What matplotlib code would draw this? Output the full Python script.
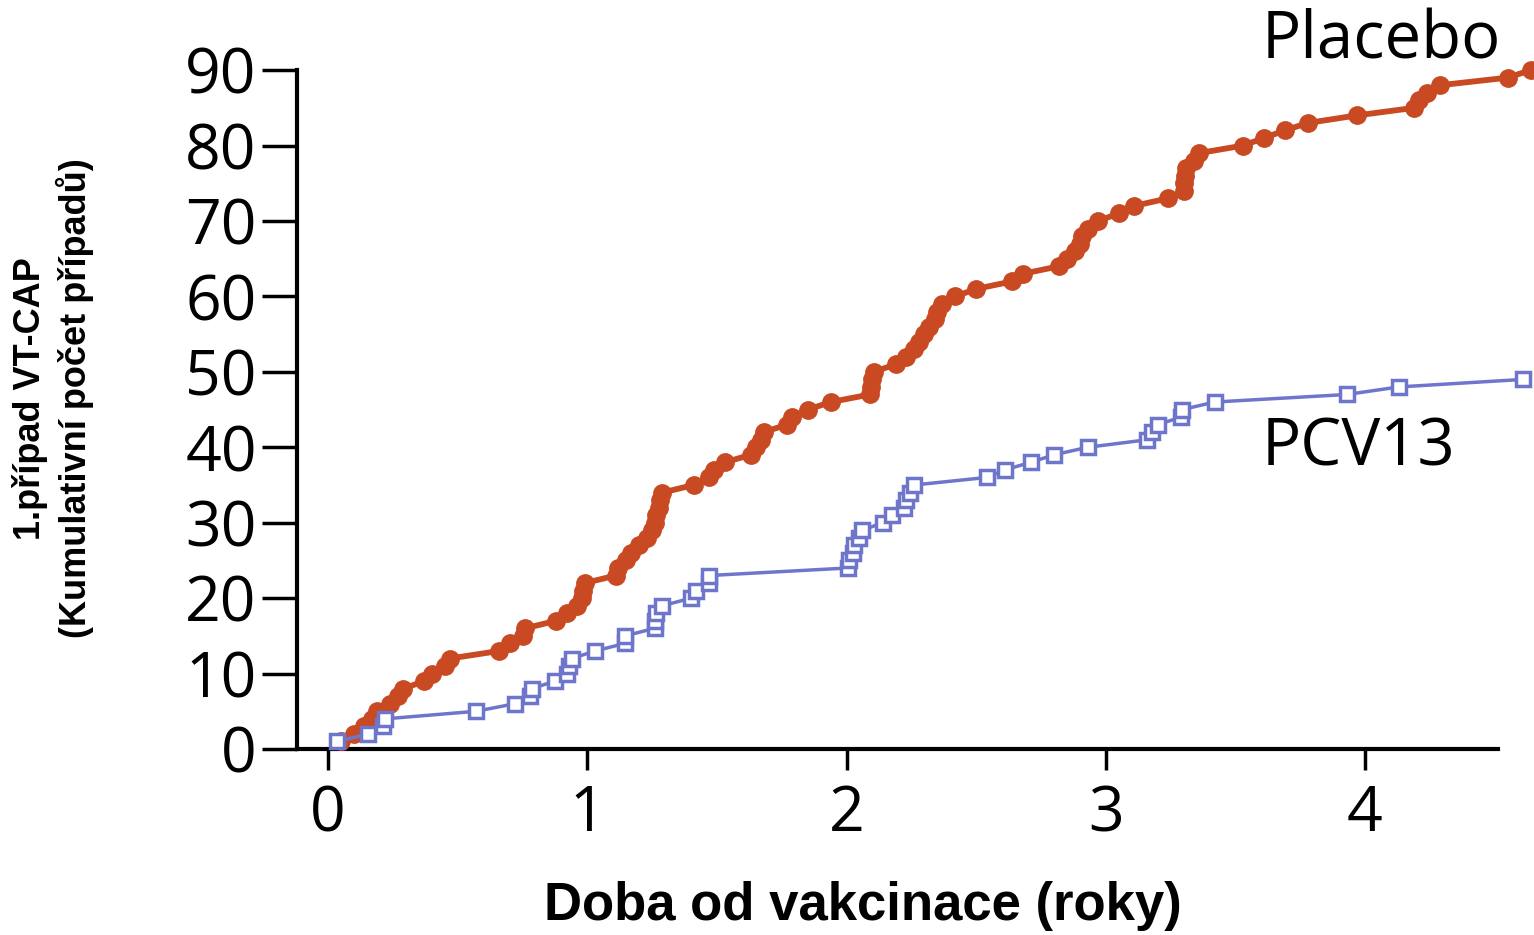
import matplotlib
matplotlib.use('Agg')
import matplotlib.pyplot as plt

# Cumulative first VT-CAP cases: time since vaccination (years) for each case
placebo_years = [0.05, 0.10, 0.14, 0.17, 0.19, 0.24, 0.27, 0.29, 0.37, 0.40,
                 0.45, 0.47, 0.66, 0.70, 0.75, 0.76, 0.88, 0.92, 0.96, 0.98,
                 0.985, 0.99, 1.11, 1.12, 1.15, 1.17, 1.20, 1.23, 1.25, 1.26,
                 1.265, 1.275, 1.28, 1.29, 1.41, 1.47, 1.49, 1.53, 1.63, 1.65,
                 1.67, 1.68, 1.77, 1.79, 1.85, 1.94, 2.09, 2.095, 2.10, 2.105,
                 2.19, 2.23, 2.26, 2.28, 2.30, 2.32, 2.34, 2.35, 2.37, 2.42,
                 2.50, 2.64, 2.68, 2.82, 2.85, 2.88, 2.90, 2.91, 2.93, 2.97,
                 3.05, 3.11, 3.24, 3.30, 3.30, 3.305, 3.31, 3.34, 3.36, 3.53,
                 3.61, 3.69, 3.78, 3.97, 4.19, 4.21, 4.24, 4.29, 4.55, 4.64]
placebo_cases = list(range(1, 91))

pcv13_years = [0.035, 0.155, 0.21, 0.22, 0.57, 0.72, 0.78, 0.785, 0.875, 0.92,
               0.93, 0.94, 1.03, 1.145, 1.145, 1.26, 1.26, 1.265, 1.29, 1.40,
               1.42, 1.47, 1.47, 2.005, 2.01, 2.025, 2.03, 2.05, 2.06, 2.14,
               2.175, 2.22, 2.23, 2.245, 2.26, 2.54, 2.61, 2.71, 2.80, 2.93,
               3.16, 3.18, 3.20, 3.29, 3.295, 3.42, 3.93, 4.13, 4.61]
pcv13_cases = list(range(1, 50))

red = '#c84922'
blue = '#6e76cc'

fig = plt.figure(figsize=(15.34, 9.35), dpi=100)
ax = fig.add_axes([0.1936, 0.1989, 0.7829, 0.7261])

ax.plot(placebo_years, placebo_cases, color=red, lw=4.2, marker='o', ms=12.5,
        clip_on=False, zorder=3)
ax.plot(pcv13_years, pcv13_cases, color=blue, lw=2.5, marker='s', ms=10,
        mfc='white', mec=blue, mew=2.5, clip_on=False, zorder=4)

ax.set_xlim(-0.12, 4.513)
ax.set_ylim(0, 90)
ax.set_xticks([0, 1, 2, 3, 4])
ax.set_yticks(range(0, 91, 10))

for s in ['top', 'right']:
    ax.spines[s].set_visible(False)
for s in ['left', 'bottom']:
    ax.spines[s].set_linewidth(3)

tick_font = {'family': 'Open Sans', 'size': 45}
ax.tick_params(axis='y', length=25, width=2.5, pad=4)
ax.tick_params(axis='x', length=15, width=2.5, pad=10)
ax.set_xticklabels(['0', '1', '2', '3', '4'], fontdict=tick_font)
ax.set_yticklabels([str(v) for v in range(0, 91, 10)], fontdict=tick_font)

ax.text(3.60, 91.6, 'Placebo', family='Open Sans', fontsize=47,
        ha='left', va='baseline')
ax.text(3.60, 37.6, 'PCV13', family='Open Sans', fontsize=47,
        ha='left', va='baseline')

fig.text(0.5625, 0.031, 'Doba od vakcinace (roky)', family='Liberation Sans',
         fontweight='bold', fontsize=38, ha='center', va='center')
fig.text(0.0345, 0.574, '1.případ VT-CAP\n(Kumulativní počet případů)',
         family='Liberation Sans', fontweight='bold', fontsize=26,
         rotation=90, ha='center', va='center', linespacing=1.25)

fig.savefig('out.png', dpi=100)
